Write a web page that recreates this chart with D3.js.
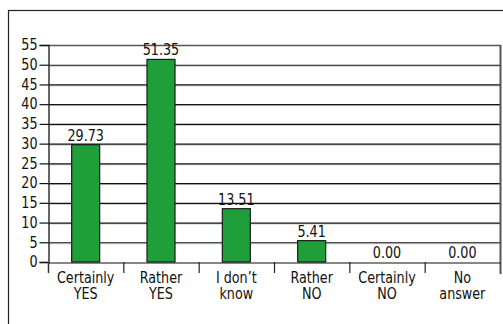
<!DOCTYPE html>
<html>
<head>
<meta charset="utf-8">
<script src="https://cdn.jsdelivr.net/npm/d3@7"></script>
<style>
  body { margin: 0; background: #fff; }
  text { font-family: "DejaVu Sans", sans-serif; fill: #111; }
</style>
</head>
<body>
<svg id="chart" width="503" height="324"></svg>
<script>
// answers and their share in percent
var categories = [["Certainly", "YES"], ["Rather", "YES"], ["I don\u2019t", "know"], ["Rather", "NO"], ["Certainly", "NO"], ["No", "answer"]];
var values = [29.73, 51.35, 13.51, 5.41, 0.00, 0.00];
var yTicks = [0, 5, 10, 15, 20, 25, 30, 35, 40, 45, 50, 55];

var svg = d3.select("#chart");
var pLeft = 48, pRight = 500, pTop = 45, pBottom = 262;
var squeeze = 0.85; // no condensed font here, so narrow the text by hand

// outer frame (runs off the right and bottom edge)
svg.append("rect")
    .attr("x", 8.5).attr("y", 10.5).attr("width", 520).attr("height", 340)
    .attr("fill", "none").attr("stroke", "#222").attr("stroke-width", 1.2);

var x = d3.scaleBand().domain(d3.range(categories.length)).range([pLeft, pRight]).padding(0);
var y = d3.scaleLinear().domain([0, 55]).range([pBottom, pTop]);

// grid lines with a light shadow under each
var grid = svg.append("g");
yTicks.forEach(function (t) {
    if (t == 0 || t == 55) return;
    grid.append("line").attr("x1", pLeft).attr("x2", pRight)
        .attr("y1", y(t) + 1.5).attr("y2", y(t) + 1.5)
        .attr("stroke", "#ccc").attr("stroke-width", 1);
    grid.append("line").attr("x1", pLeft).attr("x2", pRight)
        .attr("y1", y(t) + 0.5).attr("y2", y(t) + 0.5)
        .attr("stroke", "#111").attr("stroke-width", 1.2);
});
// plot border top and right
svg.append("line").attr("x1", pLeft).attr("x2", pRight + 1).attr("y1", pTop + 0.5).attr("y2", pTop + 0.5)
    .attr("stroke", "#555").attr("stroke-width", 1.5);
svg.append("line").attr("x1", pRight + 0.5).attr("x2", pRight + 0.5).attr("y1", pTop).attr("y2", pBottom + 12)
    .attr("stroke", "#555").attr("stroke-width", 2);

// y axis
var yAxis = svg.append("g").attr("transform", "translate(" + (pLeft + 0.5) + ",0)")
    .call(d3.axisLeft(y).tickValues(yTicks).tickSize(9).tickPadding(3));
yAxis.select(".domain").attr("stroke", "#333").attr("stroke-width", 1.5);
yAxis.selectAll(".tick line").attr("stroke", "#111").attr("stroke-width", 1.2);
yAxis.selectAll(".tick text")
    .style("font-size", "15px").attr("fill", "#111")
    .attr("x", -11 / squeeze)
    .attr("transform", "scale(" + squeeze + ",1)");

// x axis
var xAxis = svg.append("g").attr("transform", "translate(0," + (pBottom + 0.5) + ")")
    .call(d3.axisBottom(x).tickSize(0).tickFormat(""));
xAxis.select(".domain").attr("stroke", "#111").attr("stroke-width", 1.2);
d3.range(1, categories.length).forEach(function (i) {
    svg.append("line").attr("x1", x(i) + 0.5).attr("x2", x(i) + 0.5)
        .attr("y1", pBottom).attr("y2", pBottom + 11)
        .attr("stroke", "#222").attr("stroke-width", 1.2);
});
svg.append("line").attr("x1", pLeft + 0.5).attr("x2", pLeft + 0.5).attr("y1", pBottom).attr("y2", pBottom + 11)
    .attr("stroke", "#333").attr("stroke-width", 1.5);

var labels = svg.append("g");
categories.forEach(function (c, i) {
    var cx = (x(i) + x.bandwidth() / 2) / squeeze;
    var t = labels.append("text").attr("text-anchor", "middle").style("font-size", "15px")
        .attr("transform", "scale(" + squeeze + ",1)");
    t.append("tspan").attr("x", cx).attr("y", pBottom + 21).text(c[0]);
    t.append("tspan").attr("x", cx).attr("y", pBottom + 37).text(c[1]);
});

// bars
var bw = 28;
svg.append("g").selectAll("rect").data(values).join("rect")
    .attr("x", function (d, i) { return x(i) + x.bandwidth() / 2 - bw / 2; })
    .attr("y", function (d) { return y(d); })
    .attr("width", bw)
    .attr("height", function (d) { return pBottom - y(d); })
    .attr("fill", "#1e9f3a")
    .attr("stroke", "#1a1a1a").attr("stroke-width", 1.2);

svg.append("g").selectAll("text").data(values).join("text")
    .attr("x", function (d, i) { return (x(i) + x.bandwidth() / 2) / squeeze; })
    .attr("y", function (d) { return y(d) - 4; })
    .attr("transform", "scale(" + squeeze + ",1)")
    .attr("text-anchor", "middle")
    .style("font-size", "15px")
    .text(function (d) { return d.toFixed(2); });
</script>
</body>
</html>
